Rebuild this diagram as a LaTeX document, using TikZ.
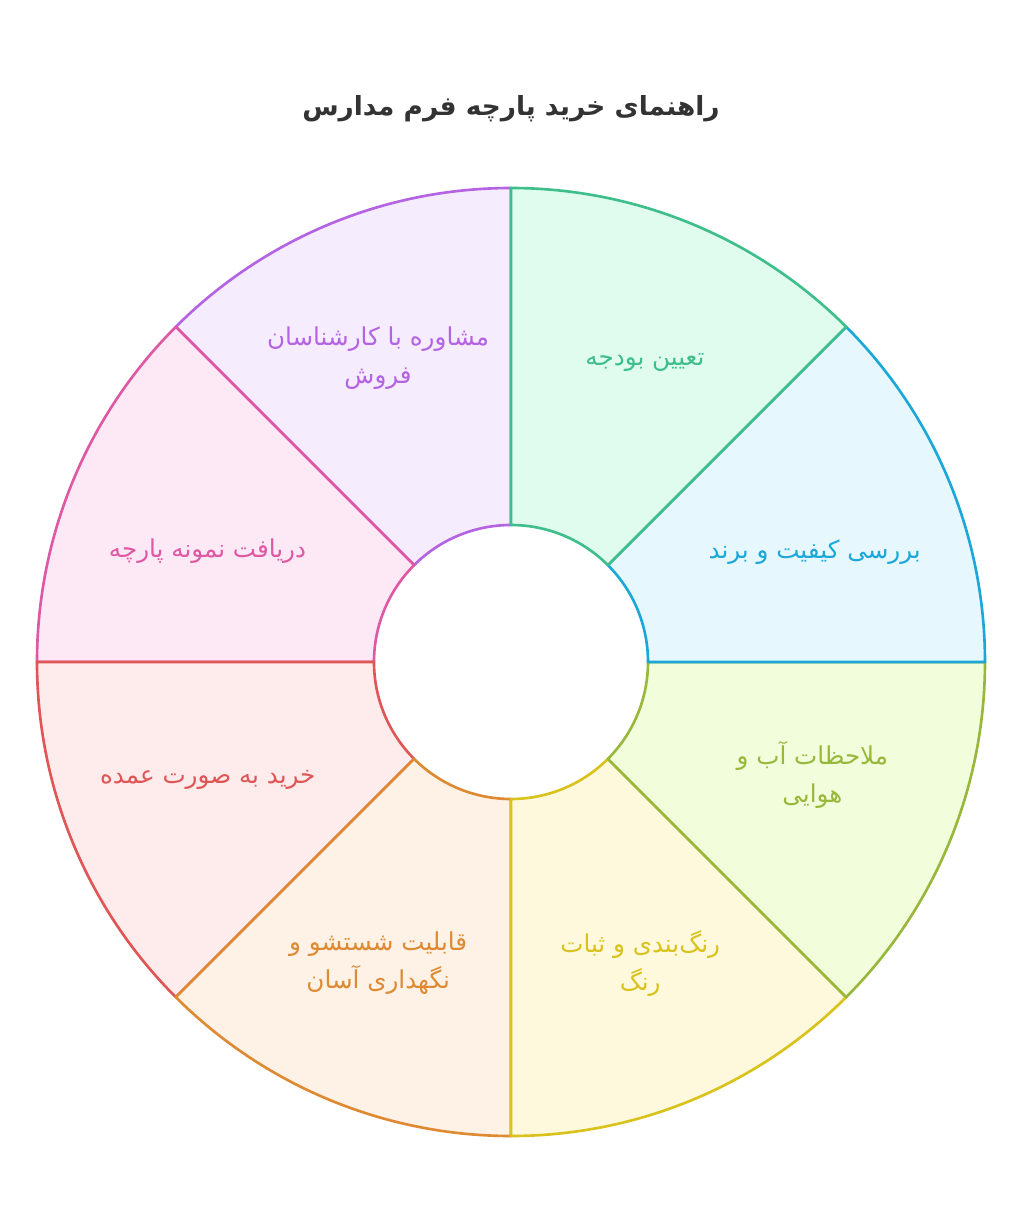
\documentclass[tikz,border=0pt]{standalone}
\usepackage{fontspec}
\TeXXeTstate=1
\newfontfamily\fa[Script=Arabic]{DejaVu Sans}
\definecolor{greenline}{HTML}{3DBE8B}
\definecolor{greenfill}{HTML}{E0FCEF}
\definecolor{blueline}{HTML}{1BA8D8}
\definecolor{bluefill}{HTML}{E6F7FD}
\definecolor{ygline}{HTML}{98B83B}
\definecolor{ygfill}{HTML}{F2FDDC}
\definecolor{yellowline}{HTML}{D9C21B}
\definecolor{yellowfill}{HTML}{FEF9DC}
\definecolor{orangeline}{HTML}{DE8A32}
\definecolor{orangefill}{HTML}{FEF1E6}
\definecolor{redline}{HTML}{E05555}
\definecolor{redfill}{HTML}{FEEBEB}
\definecolor{pinkline}{HTML}{DE58A4}
\definecolor{pinkfill}{HTML}{FDE9F5}
\definecolor{purpleline}{HTML}{B463E2}
\definecolor{purplefill}{HTML}{F5EDFE}
\definecolor{titlegray}{HTML}{333333}
\tikzset{
  sec/.style={line width=1.5pt, line join=round},
  sectxt/.style={font=\fa\fontsize{14}{21.5}\selectfont, align=center, inner sep=0pt},
}
\begin{document}
\begin{tikzpicture}
\useasboundingbox[fill=white] (-10.22,-11.02) rectangle (10.26,13.24);
\node[font=\fa\bfseries\fontsize{15}{20}\selectfont, text=titlegray] (title) at (0,11.06) {\beginR راهنمای خرید پارچه فرم مدارس\endR};
% sectors, drawn so that the shared edges show as in the layout
\draw[sec, draw=purpleline, fill=purplefill] (90:2.74) -- (90:9.48) arc[start angle=90, end angle=135, radius=9.48] -- (135:2.74) arc[start angle=135, end angle=90, radius=2.74] -- cycle;
\draw[sec, draw=pinkline, fill=pinkfill] (135:2.74) -- (135:9.48) arc[start angle=135, end angle=180, radius=9.48] -- (180:2.74) arc[start angle=180, end angle=135, radius=2.74] -- cycle;
\draw[sec, draw=redline, fill=redfill] (180:2.74) -- (180:9.48) arc[start angle=180, end angle=225, radius=9.48] -- (225:2.74) arc[start angle=225, end angle=180, radius=2.74] -- cycle;
\draw[sec, draw=orangeline, fill=orangefill] (225:2.74) -- (225:9.48) arc[start angle=225, end angle=270, radius=9.48] -- (270:2.74) arc[start angle=270, end angle=225, radius=2.74] -- cycle;
\draw[sec, draw=yellowline, fill=yellowfill] (-90:2.74) -- (-90:9.48) arc[start angle=-90, end angle=-45, radius=9.48] -- (-45:2.74) arc[start angle=-45, end angle=-90, radius=2.74] -- cycle;
\draw[sec, draw=ygline, fill=ygfill] (-45:2.74) -- (-45:9.48) arc[start angle=-45, end angle=0, radius=9.48] -- (0:2.74) arc[start angle=0, end angle=-45, radius=2.74] -- cycle;
\draw[sec, draw=blueline, fill=bluefill] (0:2.74) -- (0:9.48) arc[start angle=0, end angle=45, radius=9.48] -- (45:2.74) arc[start angle=45, end angle=0, radius=2.74] -- cycle;
\draw[sec, draw=greenline, fill=greenfill] (45:2.74) -- (45:9.48) arc[start angle=45, end angle=90, radius=9.48] -- (90:2.74) arc[start angle=90, end angle=45, radius=2.74] -- cycle;
% labels
\node[sectxt, text=greenline, yshift=-0.09cm] (budget) at (66.2:6.64) {\beginR تعیین بودجه\endR};
\node[sectxt, text=blueline, yshift=-0.06cm] (quality) at (20.4:6.48) {\beginR بررسی کیفیت و برند\endR};
\node[sectxt, text=ygline] (climate) at (-20.6:6.44) {\beginR ملاحظات آب و\endR\\\beginR هوایی\endR};
\node[sectxt, text=yellowline] (colour) at (-66.8:6.56) {\beginR رنگ‌بندی و ثبات\endR\\\beginR رنگ\endR};
\node[sectxt, text=orangeline] (washing) at (-113.8:6.58) {\beginR قابلیت شستشو و\endR\\\beginR نگهداری آسان\endR};
\node[sectxt, text=redline, yshift=-0.08cm] (bulk) at (-159.4:6.48) {\beginR خرید به صورت عمده\endR};
\node[sectxt, text=pinkline, yshift=-0.06cm] (sample) at (159.5:6.48) {\beginR دریافت نمونه پارچه\endR};
\node[sectxt, text=purpleline] (advice) at (113.6:6.64) {\beginR مشاوره با کارشناسان\endR\\\beginR فروش\endR};
\end{tikzpicture}
\end{document}
